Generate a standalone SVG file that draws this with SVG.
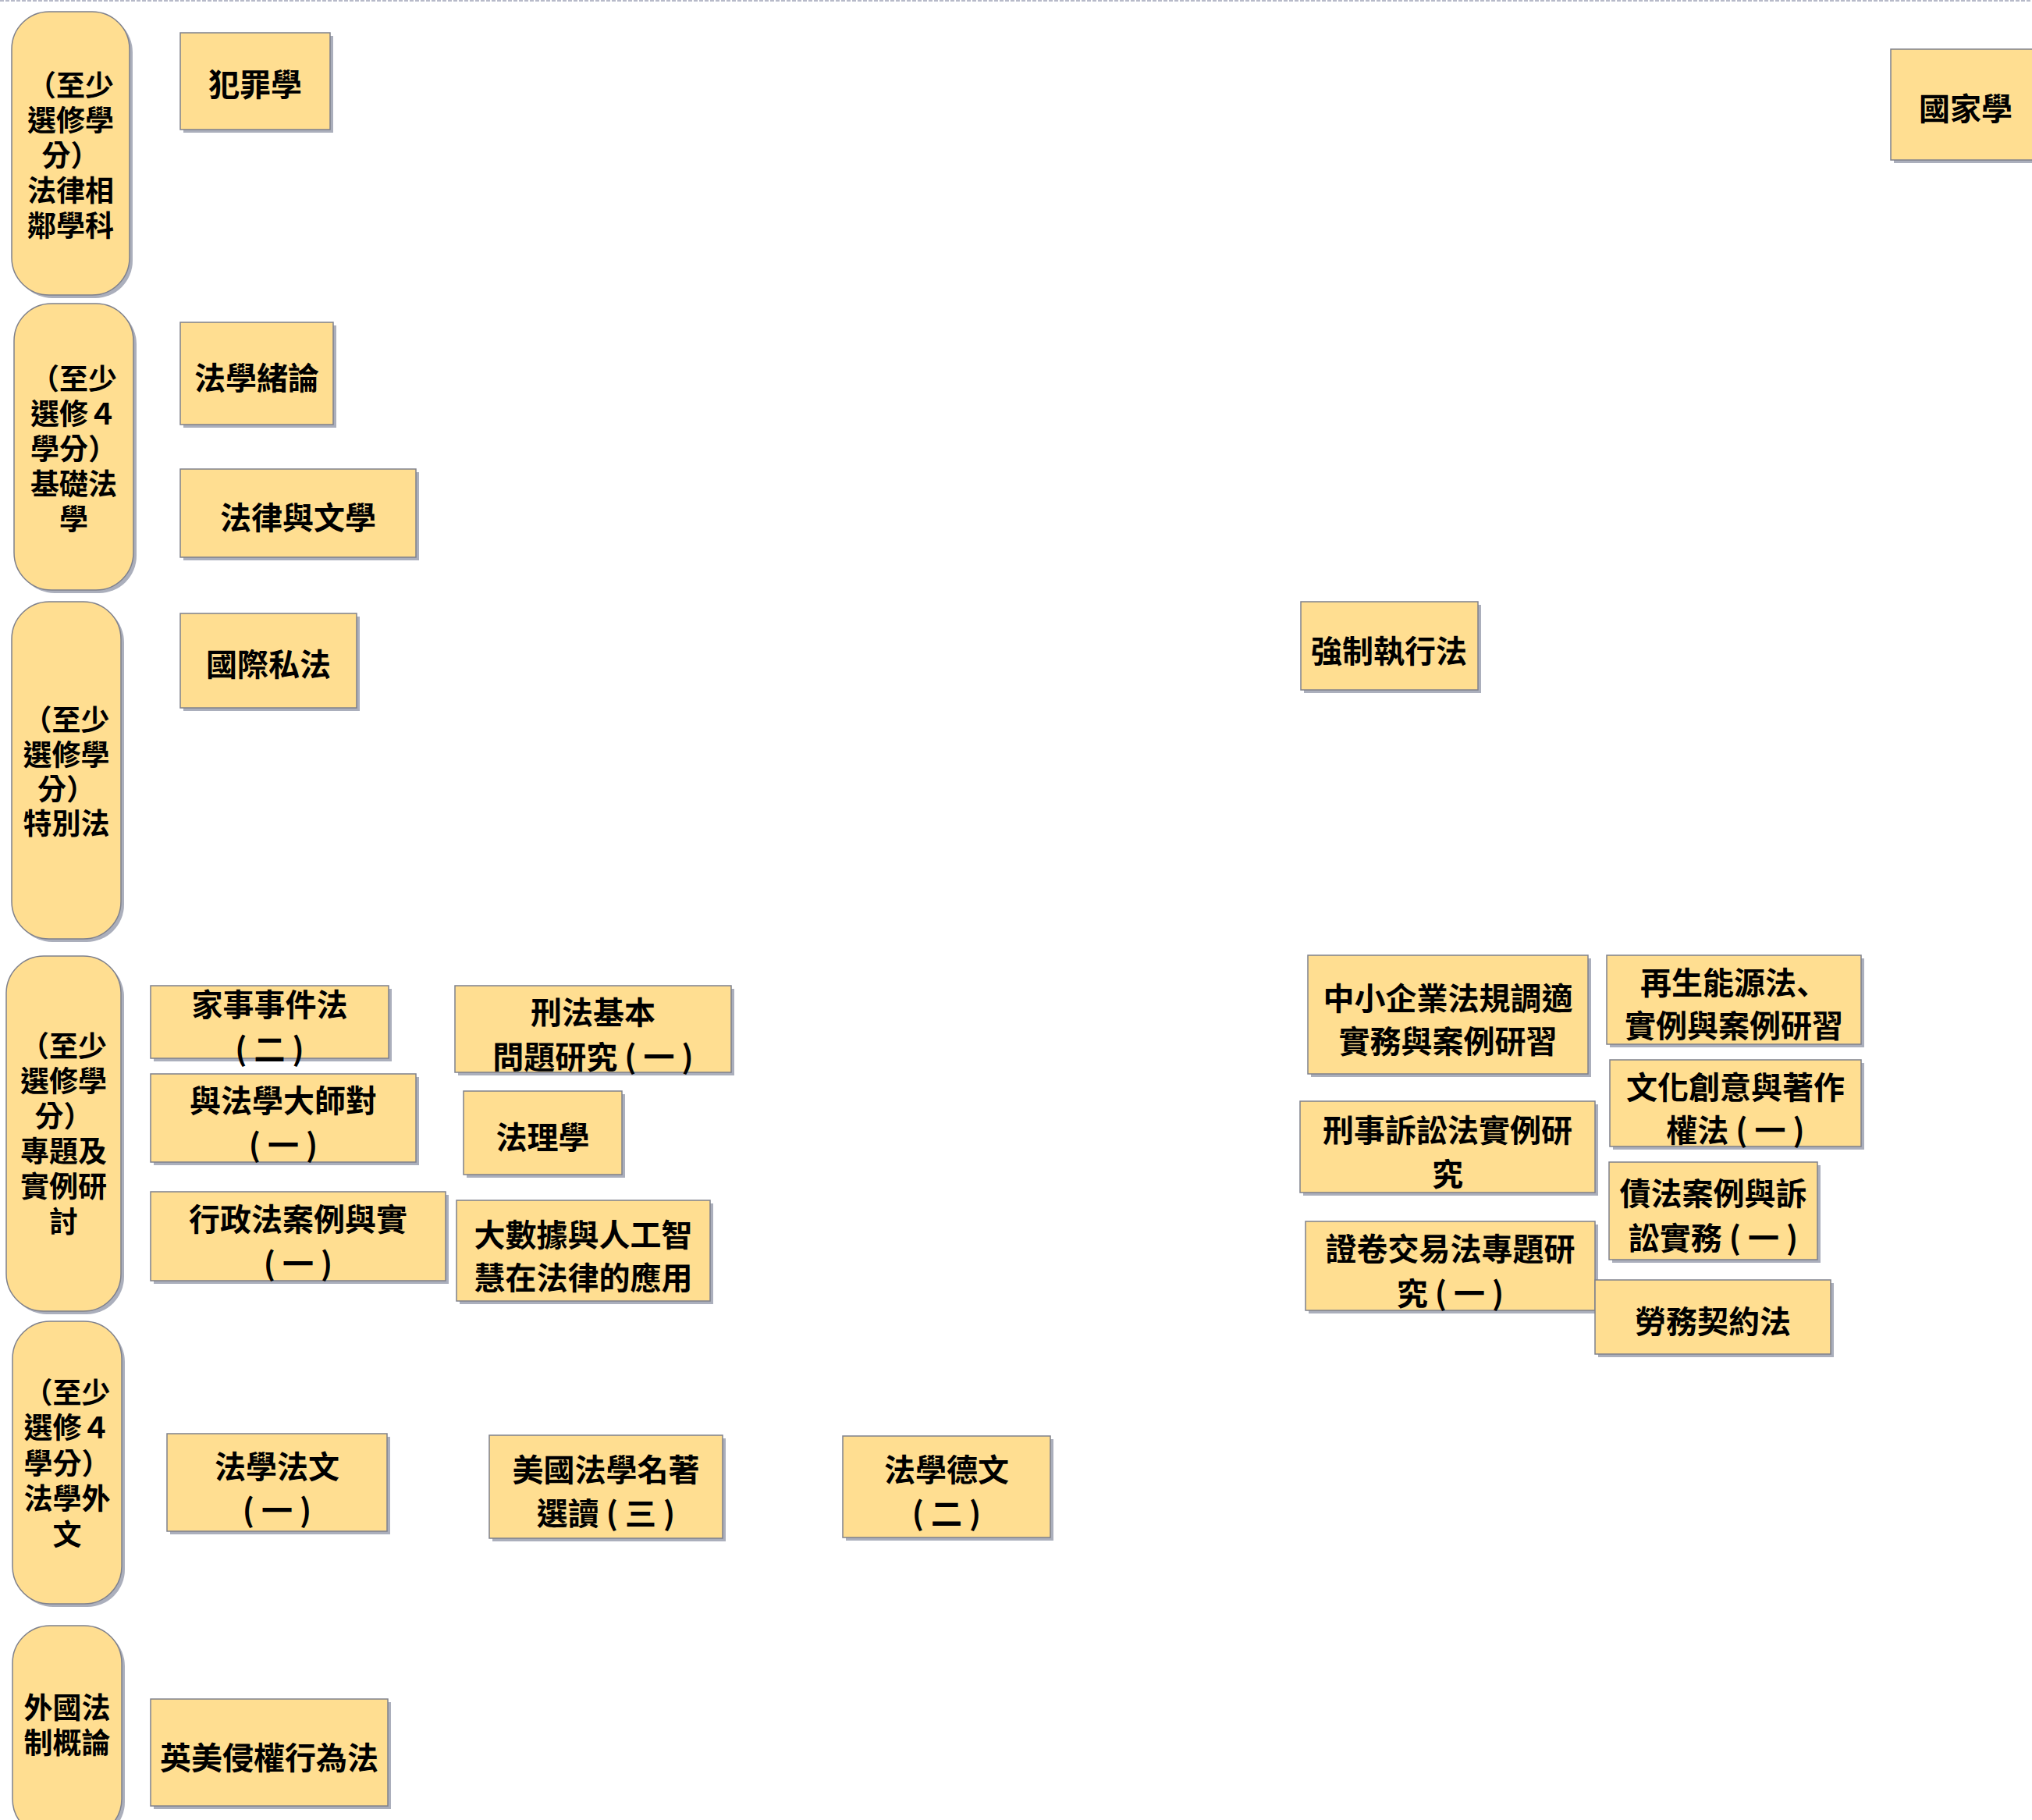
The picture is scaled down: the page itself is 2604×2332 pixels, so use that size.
<svg xmlns="http://www.w3.org/2000/svg" width="2604" height="2332" viewBox="0 0 2604 2332">
<style>
.bg{fill:#ffffff}
.sh{fill:#abafbc}
.box{fill:#ffde91;stroke:#7f818c;stroke-width:1.5}
text{font-family:"Noto Sans CJK TC","Noto Sans CJK SC",sans-serif;font-weight:700;fill:#000;text-anchor:middle;dominant-baseline:central}
.t{font-size:40px}
.lt{font-size:37px}
.jp{font-family:"Noto Sans CJK JP","Noto Sans CJK SC",sans-serif}
</style>
<rect class="bg" x="0" y="0" width="2604" height="2332"/>
<line x1="0" y1="1" x2="2604" y2="1" stroke="#a0a4b8" stroke-width="1.5" stroke-dasharray="5 2"/>
<g id="connectors"></g>

<g id="lane1"><rect class="sh" x="19" y="19" width="151" height="363" rx="48"/><rect class="box" x="15" y="15" width="151" height="363" rx="48"/>
<text class="lt"><tspan x="90.5" y="107">（至少</tspan><tspan x="90.5" y="152">選修學</tspan><tspan x="90.5" y="197">分）</tspan><tspan x="90.5" y="242">法律相</tspan><tspan x="90.5" y="287">鄰學科</tspan></text></g>

<g id="lane2"><rect class="sh" x="22" y="393" width="153" height="367" rx="48"/><rect class="box" x="18" y="389" width="153" height="367" rx="48"/>
<text class="lt"><tspan x="94.5" y="483">（至少</tspan><tspan x="94.5" y="528">選修４</tspan><tspan x="94.5" y="573">學分）</tspan><tspan x="94.5" y="618">基礎法</tspan><tspan x="94.5" y="663">學</tspan></text></g>

<g id="lane3"><rect class="sh" x="19" y="775" width="140" height="432" rx="48"/><rect class="box" x="15" y="771" width="140" height="432" rx="48"/>
<text class="lt"><tspan x="85" y="920">（至少</tspan><tspan x="85" y="965">選修學</tspan><tspan x="85" y="1009">分）</tspan><tspan x="85" y="1053">特別法</tspan></text></g>

<g id="lane4"><rect class="sh" x="12" y="1229" width="147" height="455" rx="48"/><rect class="box" x="8" y="1225" width="147" height="455" rx="48"/>
<text class="lt"><tspan x="81.5" y="1338">（至少</tspan><tspan x="81.5" y="1383">選修學</tspan><tspan x="81.5" y="1428">分）</tspan><tspan x="81.5" y="1473">專題及</tspan><tspan x="81.5" y="1518">實例研</tspan><tspan x="81.5" y="1563">討</tspan></text></g>

<g id="lane5"><rect class="sh" x="20" y="1697" width="140" height="362" rx="48"/><rect class="box" x="16" y="1693" width="140" height="362" rx="48"/>
<text class="lt"><tspan x="86" y="1782">（至少</tspan><tspan x="86" y="1827">選修４</tspan><tspan x="86" y="1873">學分）</tspan><tspan x="86" y="1918">法學外</tspan><tspan x="86" y="1964">文</tspan></text></g>

<g id="lane6"><rect class="sh" x="20" y="2087" width="140" height="270" rx="48"/><rect class="box" x="16" y="2083" width="140" height="270" rx="48"/>
<text class="lt"><tspan x="86" y="2186">外國法</tspan><tspan x="86" y="2231">制概論</tspan></text></g>

<g id="n_fanzui"><rect class="sh" x="235" y="46" width="192" height="124"/><rect class="box" x="231" y="42" width="192" height="124"/><text class="t" x="327" y="106">犯罪學</text></g>
<g id="n_guojia"><rect class="sh" x="2427" y="67" width="200" height="142"/><rect class="box" x="2423" y="63" width="200" height="142"/><text class="t" x="2519" y="137">國家學</text></g>
<g id="n_faxuexulun"><rect class="sh" x="235" y="417" width="196" height="131"/><rect class="box" x="231" y="413" width="196" height="131"/><text class="t" x="329" y="482">法學緒論</text></g>
<g id="n_falvwenxue"><rect class="sh" x="235" y="605" width="302" height="113"/><rect class="box" x="231" y="601" width="302" height="113"/><text class="t" x="382" y="661">法律與文學</text></g>
<g id="n_guojisifa"><rect class="sh" x="235" y="790" width="226" height="121"/><rect class="box" x="231" y="786" width="226" height="121"/><text class="t" x="344" y="849">國際私法</text></g>
<g id="n_qiangzhi"><rect class="sh" x="1671" y="775" width="227" height="113"/><rect class="box" x="1667" y="771" width="227" height="113"/><text class="t" x="1780" y="832">強制執行法</text></g>

<g id="n_jiashi"><rect class="sh" x="197" y="1267" width="305" height="93"/><rect class="box" x="193" y="1263" width="305" height="93"/><text class="t"><tspan x="345.5" y="1285">家事事件法</tspan><tspan x="345.5" y="1342">( 二 )</tspan></text></g>
<g id="n_dashi"><rect class="sh" x="197" y="1380" width="340" height="113"/><rect class="box" x="193" y="1376" width="340" height="113"/><text class="t"><tspan x="363" y="1408">與法學大師對</tspan><tspan x="363" y="1465">( 一 )</tspan></text></g>
<g id="n_xingzheng"><rect class="sh" x="197" y="1531" width="378" height="114"/><rect class="box" x="193" y="1527" width="378" height="114"/><text class="t"><tspan x="382" y="1560">行政法案例與實</tspan><tspan x="382" y="1617">( 一 )</tspan></text></g>
<g id="n_xingfa"><rect class="sh" x="587" y="1267" width="354" height="111"/><rect class="box" x="583" y="1263" width="354" height="111"/><text class="t"><tspan x="760" y="1295">刑法基本</tspan><tspan x="760" y="1352">問題研究 ( 一 )</tspan></text></g>
<g id="n_falixue"><rect class="sh" x="598" y="1402" width="203" height="107"/><rect class="box" x="594" y="1398" width="203" height="107"/><text class="t" x="695.5" y="1455">法理學</text></g>
<g id="n_dashuju"><rect class="sh" x="589" y="1542" width="325" height="129"/><rect class="box" x="585" y="1538" width="325" height="129"/><text class="t"><tspan x="747.5" y="1580">大數據與人工智</tspan><tspan x="747.5" y="1635">慧在法律的應用</tspan></text></g>

<g id="n_fawen"><rect class="sh" x="218" y="1841" width="282" height="125"/><rect class="box" x="214" y="1837" width="282" height="125"/><text class="t"><tspan x="355" y="1877">法學法文</tspan><tspan x="355" y="1933">( 一 )</tspan></text></g>
<g id="n_meiguo"><rect class="sh" x="631" y="1843" width="299" height="132"/><rect class="box" x="627" y="1839" width="299" height="132"/><text class="t"><tspan x="776.5" y="1881">美國法學名著</tspan><tspan x="776.5" y="1937">選讀 ( 三 )</tspan></text></g>
<g id="n_dewen"><rect class="sh" x="1084" y="1844" width="266" height="130"/><rect class="box" x="1080" y="1840" width="266" height="130"/><text class="t"><tspan x="1213" y="1881">法學德文</tspan><tspan x="1213" y="1937">( 二 )</tspan></text></g>
<g id="n_yingmei"><rect class="sh" x="197" y="2181" width="304" height="137"/><rect class="box" x="193" y="2177" width="304" height="137"/><text class="t" x="345" y="2250">英美侵權行為法</text></g>

<g id="n_zhongxiao"><rect class="sh" x="1680" y="1228" width="359" height="152"/><rect class="box" x="1676" y="1224" width="359" height="152"/><text class="t"><tspan x="1855.5" y="1277">中小企業法規調適</tspan><tspan x="1855.5" y="1332">實務與案例研習</tspan></text></g>
<g id="n_zaisheng"><rect class="sh" x="2063" y="1228" width="326" height="114"/><rect class="box" x="2059" y="1224" width="326" height="114"/><text class="t"><tspan x="2222" y="1257">再生能源法<tspan class="jp">、</tspan></tspan><tspan x="2222" y="1312">實例與案例研習</tspan></text></g>
<g id="n_wenhua"><rect class="sh" x="2067" y="1362" width="322" height="111"/><rect class="box" x="2063" y="1358" width="322" height="111"/><text class="t"><tspan x="2224" y="1391">文化創意與著作</tspan><tspan x="2224" y="1446">權法 ( 一 )</tspan></text></g>
<g id="n_xingshi"><rect class="sh" x="1670" y="1415" width="378" height="117"/><rect class="box" x="1666" y="1411" width="378" height="117"/><text class="t"><tspan x="1855" y="1446">刑事訴訟法實例研</tspan><tspan x="1855" y="1502">究</tspan></text></g>
<g id="n_zhaifa"><rect class="sh" x="2066" y="1493" width="267" height="125"/><rect class="box" x="2062" y="1489" width="267" height="125"/><text class="t"><tspan x="2195.5" y="1527">債法案例與訴</tspan><tspan x="2195.5" y="1584">訟實務 ( 一 )</tspan></text></g>
<g id="n_zhengjuan"><rect class="sh" x="1677" y="1569" width="371" height="114"/><rect class="box" x="1673" y="1565" width="371" height="114"/><text class="t"><tspan x="1858.5" y="1598">證卷交易法專題研</tspan><tspan x="1858.5" y="1655">究 ( 一 )</tspan></text></g>
<g id="n_laowu"><rect class="sh" x="2048" y="1644" width="302" height="95"/><rect class="box" x="2044" y="1640" width="302" height="95"/><text class="t" x="2195" y="1691">勞務契約法</text></g>
</svg>
